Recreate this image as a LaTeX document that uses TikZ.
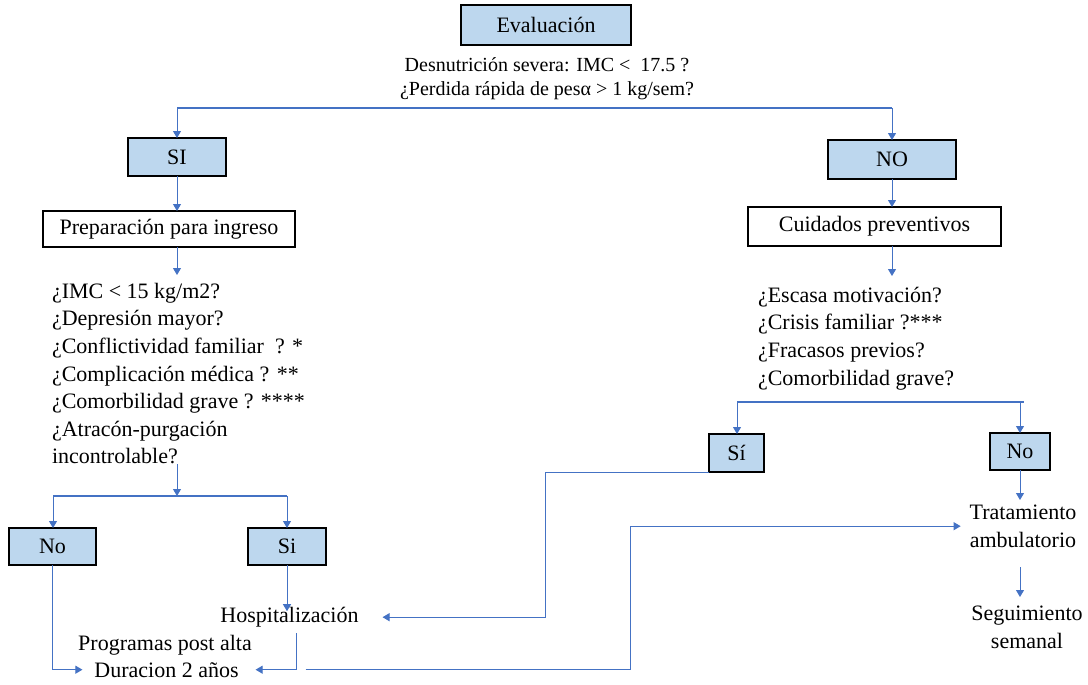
\documentclass[tikz,border=0pt]{standalone}
\usepackage{fontspec}
\setmainfont{Liberation Serif}
\usetikzlibrary{arrows.meta}
\definecolor{boxfill}{HTML}{BDD7EE}
\definecolor{linkblue}{HTML}{4472C4}

\begin{document}
\begin{tikzpicture}[x=1pt,y=-1pt,
  txt/.style={font=\fontsize{22}{27.6}\selectfont, inner sep=0pt, outer sep=0pt},
  crittext/.style={font=\fontsize{20}{24}\selectfont, inner sep=0pt, outer sep=0pt},
  bluebox/.style={txt, draw=black, line width=1.6pt, fill=boxfill},
  plainbox/.style={txt, draw=black, line width=1.6pt, fill=white},
  conn/.style={draw=linkblue, line width=1pt},
  arr/.style={conn, -{Triangle[width=8pt,length=7pt]}},
  bar/.style={draw=linkblue, line width=2pt},
]
\fill[white] (0,0) rectangle (1088,685);
\useasboundingbox (0,0) rectangle (1088,685);

% top of the chart
\node[bluebox, minimum width=170pt, minimum height=40pt] (eval) at (546,25) {Evaluación};
\node[crittext, align=center, anchor=north] (crit) at (547,58)
  {Desnutrición severa: IMC <\ \ 17.5 ?\\¿Perdida rápida de pesα > 1 kg/sem?};

\node[bluebox, minimum width=98pt, minimum height=38pt] (si) at (177,157) {SI};
\node[bluebox, minimum width=128pt, minimum height=39pt] (no) at (892,159.5) {NO};
\node[plainbox, minimum width=252pt, minimum height=36pt] (prep) at (169,229) {Preparación para ingreso};
\node[plainbox, minimum width=253pt, minimum height=39pt] (cuid) at (874.5,226.5) {Cuidados preventivos};

% question lists
\node[txt, align=left, anchor=north west] (qL) at (52,283)
  {¿IMC < 15 kg/m2?\\
   ¿Depresión mayor?\\
   ¿Conflictividad familiar\ \ ? *\\
   ¿Complicación médica\ ? **\\
   ¿Comorbilidad grave\ ? ****\\
   ¿Atracón-purgación\\
   incontrolable?};
\node[txt, align=left, anchor=north west] (qR) at (758,287)
  {¿Escasa motivación?\\
   ¿Crisis familiar ?***\\
   ¿Fracasos previos?\\
   ¿Comorbilidad grave?};

% answer boxes
\node[bluebox, minimum width=87pt, minimum height=37pt] (noL) at (52.5,546.5) {No};
\node[bluebox, minimum width=78pt, minimum height=37pt] (siL) at (287,546.5) {Si};
\node[bluebox, minimum width=55pt, minimum height=38pt] (siR) at (736.5,453) {Sí};
\node[bluebox, minimum width=60pt, minimum height=37pt] (noR) at (1020,451.5) {No};

% outcomes
\node[txt, anchor=base] (hosp) at (289.5,622.5) {Hospitalización};
\node[txt, anchor=base] (prog) at (165,650.5) {Programas post alta};
\node[txt, anchor=base] (dur) at (166.5,677) {Duracion 2 años};
\node[txt, align=center, anchor=north] (trat) at (1023,505) {Tratamiento\\ambulatorio};
\node[txt, align=center, anchor=north] (seg) at (1027,606) {Seguimiento\\semanal};

% first split
\coordinate (splitA) at (177,108);
\coordinate (splitB) at (892,108);
\draw[bar] (splitA) -- (splitB);
\draw[arr] (splitA) -- (si.north);
\draw[arr] (splitB) -- (no.north);
\draw[arr] (si.south) -- (si.south |- prep.north);
\draw[arr] (no.south) -- (no.south |- cuid.north);
\draw[arr, shorten >=8pt] (si.south |- prep.south) -- (si.south |- qL.north);
\draw[arr, shorten >=11pt] (no.south |- cuid.south) -- (no.south |- qR.north);

% left split
\coordinate (splitC) at (53,496);
\coordinate (splitD) at (287,496);
\draw[bar] (splitC) -- (splitD);
\draw[arr] (si.south |- qL.south) -- (si.south |- splitC);
\draw[arr] (splitC) -- (splitC |- noL.north);
\draw[arr] (splitD) -- (siL.north);

% right split
\coordinate (splitE) at (737,402);
\coordinate (splitF) at (1024,402);
\draw[bar] (splitE) -- (splitF);
\draw[arr] (splitE) -- (splitE |- siR.north);
\draw[arr] (noR.north |- splitF) -- (noR.north);

% right outcomes
\draw[arr, shorten >=5pt] (noR.south) -- (noR.south |- trat.north);
\draw[arr, shorten <=20pt, shorten >=9pt] (noR.south |- trat.south) -- (noR.south |- seg.north);

% left outcomes
\draw[arr, shorten >=-4pt] (siL.south) -- (siL.south |- hosp.north);
\draw[arr, shorten >=12pt] (noL.south) |- (dur.west);
\draw[arr, shorten <=6pt, shorten >=17pt] ([xshift=6.5pt]hosp.south) |- (dur.east);

% cross links
\draw[arr, shorten >=24pt] (siR.south west) -- ++(-164,0) |- (hosp.east);
\draw[arr, shorten <=67pt, shorten >=9pt] (dur.east) -- ++(392,0) |- (trat.west);
\end{tikzpicture}
\end{document}
